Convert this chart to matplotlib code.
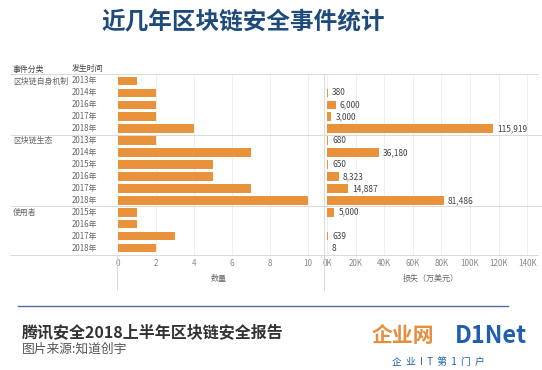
import matplotlib

matplotlib.use("Agg")
import matplotlib.pyplot as plt
import matplotlib.transforms as mtransforms
import numpy as np

plt.rcParams["font.family"] = ["Noto Sans CJK SC", "DejaVu Sans"]

# data
groups = ["区块链自身机制", "区块链生态", "使用者"]
group_sizes = [5, 6, 4]
years = ["2013年", "2014年", "2016年", "2017年", "2018年",
         "2013年", "2014年", "2015年", "2016年", "2017年", "2018年",
         "2015年", "2016年", "2017年", "2018年"]
counts = [1, 2, 2, 2, 4,
          2, 7, 5, 5, 7, 10,
          1, 1, 3, 2]
# loss in 万美元, None = no value shown
losses = [None, 380, 6000, 3000, 115919,
          680, 36180, 650, 8323, 14887, 81486,
          5000, None, 639, 8]
count_ticks = [0, 2, 4, 6, 8, 10]
loss_ticks = [0, 20000, 40000, 60000, 80000, 100000, 120000, 140000]
loss_ticklabels = ["0K", "20K", "40K", "60K", "80K", "100K", "120K", "140K"]

W, H = 542, 370
BAR = "#E8923C"
GRID = "#ececec"
LINE = "#d4d4d4"
TXT = "#666666"

fig = plt.figure(figsize=(W / 100, H / 100), dpi=100)


def fx(px):
    return px / W


def fy(py):
    return 1 - py / H


top, bottom = 74, 255
ax1 = fig.add_axes([fx(113), fy(bottom), fx(324 - 113), fy(top) - fy(bottom)])
ax2 = fig.add_axes([fx(324), fy(bottom), fx(538 - 324), fy(top) - fy(bottom)])

n = len(years)
y = np.arange(n)

ax1.barh(y, counts, height=0.72, color=BAR, zorder=3)
ax1.set_xlim(-0.26, 10.85)
ax1.set_xticks(count_ticks)

vals = [v if v is not None else 0 for v in losses]
ax2.barh(y, vals, height=0.72, color=BAR, zorder=3)
ax2.set_xlim(-2100, 147500)
ax2.set_xticks(loss_ticks)
ax2.set_xticklabels(loss_ticklabels)
for yi, v in zip(y, losses):
    if v is None:
        continue
    ax2.annotate(f"{v:,}", (v, yi), xytext=(3, 0), textcoords="offset points",
                 va="center", ha="left", fontsize=6, color="#444444")

for ax in (ax1, ax2):
    ax.set_ylim(n - 0.42, -0.58)
    ax.set_yticks([])
    for s in ax.spines.values():
        s.set_visible(False)
    ax.grid(axis="x", color=GRID, lw=0.6, zorder=0)
    ax.tick_params(axis="x", length=0, labelsize=5.8, labelcolor="#888888", pad=3)

ax1.set_xlabel("数量", fontsize=5.8, color=TXT, labelpad=4)
ax2.set_xlabel("损失（万美元）", fontsize=5.8, color=TXT, labelpad=4)

# row labels
tr = mtransforms.blended_transform_factory(fig.transFigure, ax1.transData)
start = 0
for g, size in zip(groups, group_sizes):
    fig.text(fx(13), start, g, transform=tr, fontsize=5.7, color=TXT, va="center")
    start += size
for yi, yr in zip(y, years):
    fig.text(fx(72), yi, yr, transform=tr, fontsize=5.7, color=TXT, va="center")

# header and table lines
fig.text(fx(13), fy(69), "事件分类", fontsize=5.7, color="#444444", va="center")
fig.text(fx(72), fy(69), "发生时间", fontsize=5.7, color="#444444", va="center")
fig.add_artist(plt.Line2D([fx(10), fx(538)], [fy(top), fy(top)], color=LINE, lw=0.6))
fig.add_artist(plt.Line2D([fx(10), fx(538)], [fy(bottom), fy(bottom)], color=LINE, lw=0.6))
start = 0
for size in group_sizes[:-1]:
    start += size
    fig.add_artist(plt.Line2D([0.02, 1], [start - 0.5, start - 0.5], transform=tr,
                              color=LINE, lw=0.6))
fig.add_artist(plt.Line2D([fx(324), fx(324)], [fy(290), fy(top)], color=LINE, lw=0.6))
fig.add_artist(plt.Line2D([fx(117), fx(117)], [fy(290), fy(bottom)], color=LINE, lw=0.6))

# title
fig.text(fx(243), fy(22), "近几年区块链安全事件统计", fontsize=17, fontweight="heavy",
         color="#1f4b7c", ha="center", va="center")

# footer
fig.add_artist(plt.Line2D([fx(18), fx(508)], [fy(306), fy(306)], color="#4a6fa8", lw=1))
fig.text(fx(22), fy(332), "腾讯安全2018上半年区块链安全报告", fontsize=11.5,
         fontweight="bold", color="#333333", va="center")
fig.text(fx(22), fy(349), "图片来源:知道创宇", fontsize=9.2, color="#555555", va="center")

# watermark
fig.text(fx(372), fy(336), "企业网", fontsize=15, fontweight="bold", color="#e07a1c",
         va="center", alpha=0.85)
fig.text(fx(455), fy(336), "D1Net", fontsize=17, fontweight="bold", color="#1f5fae",
         va="center")
fig.text(fx(392), fy(362), "企  业  I  T  第  1  门  户", fontsize=7, color="#1f5fae",
         va="center")

fig.savefig("out.png", dpi=100, facecolor="white")
